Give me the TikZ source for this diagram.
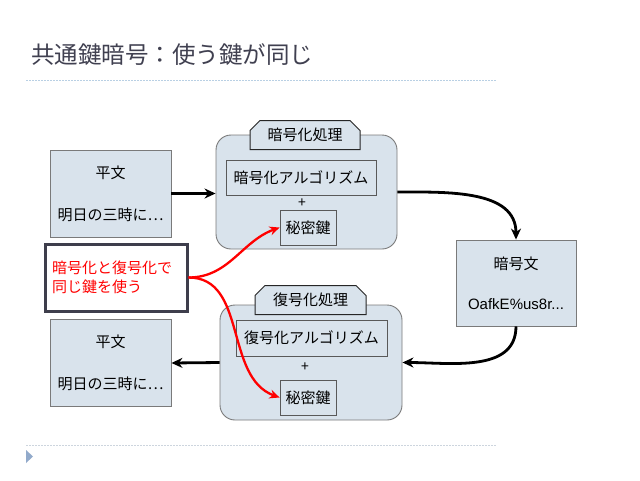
\documentclass[tikz,border=0pt]{standalone}
\usepackage{fontspec}
\setmainfont{Noto Sans CJK JP}
\newfontfamily\latinf{Liberation Sans}
\usetikzlibrary{arrows.meta,shapes.misc}
\definecolor{boxfill}{HTML}{D9E3EC}
\definecolor{boxline}{HTML}{7A7A7A}
\definecolor{titlec}{HTML}{404050}
\definecolor{noteline}{HTML}{3E3E4C}
\definecolor{dotc}{HTML}{B9D0E4}
\definecolor{dotc2}{HTML}{CDD5DE}
\definecolor{tric}{HTML}{92AACB}
\tikzset{
  plainbox/.style={draw=boxline, fill=boxfill, line width=0.9pt, minimum width=121pt, minimum height=87pt, align=center, font=\fontsize{15}{17}\selectfont, inner sep=0pt},
  groupbox/.style={draw=boxline, fill=boxfill, line width=0.9pt, rounded corners=15pt, minimum width=181pt, minimum height=114pt, inner sep=0pt},
  tabbox/.style={draw=black!85, fill=boxfill, line width=1pt, chamfered rectangle, chamfered rectangle corners={north west,north east}, chamfered rectangle xsep=5pt, chamfered rectangle ysep=5pt, minimum width=110pt, minimum height=29pt, inner sep=0pt, font=\fontsize{15}{17}\selectfont},
  algbox/.style={draw=black!65, fill=boxfill, line width=0.9pt, minimum height=35pt, inner sep=0pt, font=\fontsize{15}{17}\selectfont},
  keybox/.style={draw=black!65, fill=boxfill, line width=0.9pt, minimum width=56pt, minimum height=35pt, inner sep=0pt, font=\fontsize{15}{17}\selectfont},
  plustext/.style={font=\fontsize{14}{15}\selectfont, inner sep=0pt},
  flow/.style={line width=2.8pt, -{Stealth[length=11pt,width=10pt]}},
  redflow/.style={draw=red, line width=2.3pt, -{Stealth[length=10pt,width=9pt]}},
}
\begin{document}
\begin{tikzpicture}[x=1pt,y=-1pt]
\useasboundingbox[fill=white] (0,0) rectangle (640,480);
% title
\node[anchor=west, text=titlec, font=\fontsize{23.5}{26}\selectfont, inner sep=0pt] (title) at (31,55) {共通鍵暗号：使う鍵が同じ};
\draw[dotc, line width=1pt, dash pattern=on 1.5pt off 1.5pt] (26,80) -- (497,80);
\draw[dotc2, line width=1pt, dash pattern=on 1.5pt off 1.5pt] (26,445) -- (497,445);
\fill[tric] (26,450) -- (33,456.5) -- (26,463) -- cycle;

% plain text boxes
\node[plainbox] (p1) at (110.5,193.5) {平文\\[25pt]明日の三時に…};
\node[plainbox] (p2) at (110.5,363) {平文\\[25pt]明日の三時に…};

% cipher
\node[plainbox, minimum width=120pt, minimum height=86pt] (c) at (516,283) {暗号文\\[23pt]{\latinf\fontsize{15}{17}\selectfont OafkE\%us8r...}};

% encryption group
\node[groupbox] (enc) at (306.5,192) {};
\node[tabbox] (enctab) at (305,135) {暗号化処理};
\node[algbox, minimum width=150pt] (alg1) at (301,177.5) {暗号化アルゴリズム};
\node[plustext] (plus1) at (302,203) {+};
\node[keybox] (key1) at (308,227.5) {秘密鍵};

% decryption group
\node[groupbox, minimum width=182pt, minimum height=115pt] (dec) at (311,362.5) {};
\node[tabbox, minimum width=111pt] (dectab) at (310.5,300) {復号化処理};
\node[algbox, minimum width=151pt, minimum height=36pt] (alg2) at (311.5,338) {復号化アルゴリズム};
\node[plustext] (plus2) at (305,367) {+};
\node[keybox] (key2) at (308,397.5) {秘密鍵};

% note
\node[draw=noteline, fill=white, line width=3pt, minimum width=142pt, minimum height=67pt, text width=128pt, inner sep=0pt, align=left, text=red, font=\fontsize{15}{19.5}\selectfont] (note) at (116,277.5) {暗号化と復号化で\\同じ鍵を使う};

% flow arrows
\draw[flow] (p1.east) -- (p1.east -| enc.west);
\draw[flow] (enc.east) to[out=0, in=90] (c.north);
\draw[flow] (c.south) to[out=-90, in=0] (dec.east);
\draw[flow] (dec.west) -- (p2.east);

% red arrows
\draw[redflow] (note.east) to[out=0, in=200] (key1.west);
\draw[redflow] (note.east) to[out=0, in=160] (key2.west);
\end{tikzpicture}
\end{document}
